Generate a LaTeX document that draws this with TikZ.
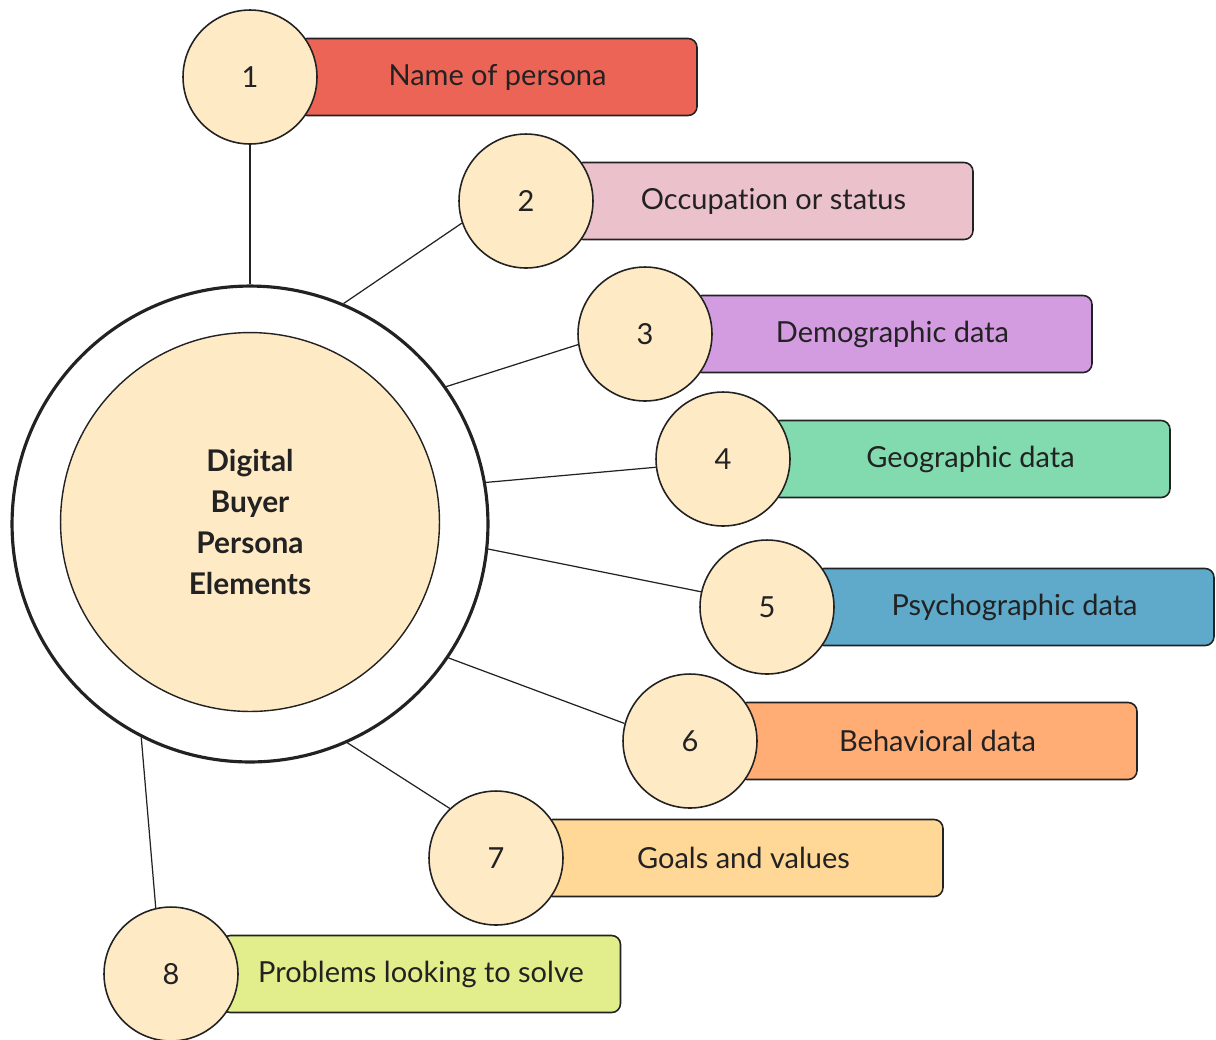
\documentclass[tikz,border=0pt]{standalone}
\usepackage{fontspec}
\setmainfont{Lato}[Ligatures=NoCommon]
\usetikzlibrary{calc, backgrounds}

\definecolor{personaCream}{HTML}{FFEAC6}
\definecolor{lineGray}{HTML}{222222}
\definecolor{tagRed}{HTML}{EC6456}
\definecolor{tagPink}{HTML}{EBC2CB}
\definecolor{tagPurple}{HTML}{D39BE0}
\definecolor{tagGreen}{HTML}{82DBAF}
\definecolor{tagBlue}{HTML}{5FAACA}
\definecolor{tagOrange}{HTML}{FFAD75}
\definecolor{tagPeach}{HTML}{FFD796}
\definecolor{tagLime}{HTML}{E1EE8B}

\begin{document}
\begin{tikzpicture}[
	x=0.02cm, y=-0.02cm,
	font=\fontsize{16.5}{19}\selectfont,
	text=lineGray,
	% Circle styles
	ring/.style={circle, draw=lineGray, line width=1.8pt, minimum size=9.52cm, inner sep=0pt},
	core/.style={circle, draw=lineGray, line width=0.8pt, fill=personaCream, minimum size=7.58cm, inner sep=0pt, align=center, font=\fontsize{17}{23.4}\selectfont\bfseries},
	hub/.style={circle, draw=lineGray, line width=0.9pt, fill=personaCream, minimum size=2.68cm, inner sep=0pt},
	% Label boxes
	tag/.style={draw=lineGray, line width=0.9pt, rounded corners=5pt, minimum width=7.98cm, minimum height=1.54cm, inner sep=0pt},
	% Connector
	link/.style={draw=lineGray, line width=0.7pt}
	]
	
	\useasboundingbox (0,0) rectangle (1216,1039);
	
	% ==============================================================================
	% CENTRE
	% ==============================================================================
	\node[ring] (ring) at (250,524) {};
	\node[core] (core) at (250,522) {Digital\\Buyer\\Persona\\Elements};
	
	% ==============================================================================
	% NUMBERED ELEMENTS
	% ==============================================================================
	\node[hub] (c1) at (250,77) {1};
	\node[hub] (c2) at (526,201) {2};
	\node[hub] (c3) at (645,334) {3};
	\node[hub] (c4) at (723,459) {4};
	\node[hub] (c5) at (767,607) {5};
	\node[hub] (c6) at (690,741) {6};
	\node[hub] (c7) at (496,858) {7};
	\node[hub] (c8) at (171,974) {8};
	
	\begin{scope}[on background layer]
		\node[tag, fill=tagRed] (t1) at ($(c1)+(247.5,0)$) {Name of persona};
		\node[tag, fill=tagPink] (t2) at ($(c2)+(247.5,0)$) {Occupation or status};
		\node[tag, fill=tagPurple] (t3) at ($(c3)+(247.5,0)$) {Demographic data};
		\node[tag, fill=tagGreen] (t4) at ($(c4)+(247.5,0)$) {Geographic data};
		\node[tag, fill=tagBlue] (t5) at ($(c5)+(247.5,0)$) {Psychographic data};
		\node[tag, fill=tagOrange] (t6) at ($(c6)+(247.5,0)$) {Behavioral data};
		\node[tag, fill=tagPeach] (t7) at ($(c7)+(247.5,0)$) {Goals and values};
		\node[tag, fill=tagLime] (t8) at ($(c8)+(250,0)$) {Problems looking to solve};
		
		% spokes
		\draw[link] (ring.90) -- (c1.270);
		\draw[link] (ring.67.5) -- (c2.199);
		\draw[link] (ring.35.9) -- (c3.189);
		\draw[link] (ring.10.2) -- (c4.187);
		\draw[link] (ring.-6.2) -- (c5.167);
		\draw[link] (ring.-34.9) -- (c6.165);
		\draw[link] (ring.-66) -- (c7.133);
		\draw[link] (ring.243.9) -- (c8.103);
	\end{scope}
	
\end{tikzpicture}
\end{document}
